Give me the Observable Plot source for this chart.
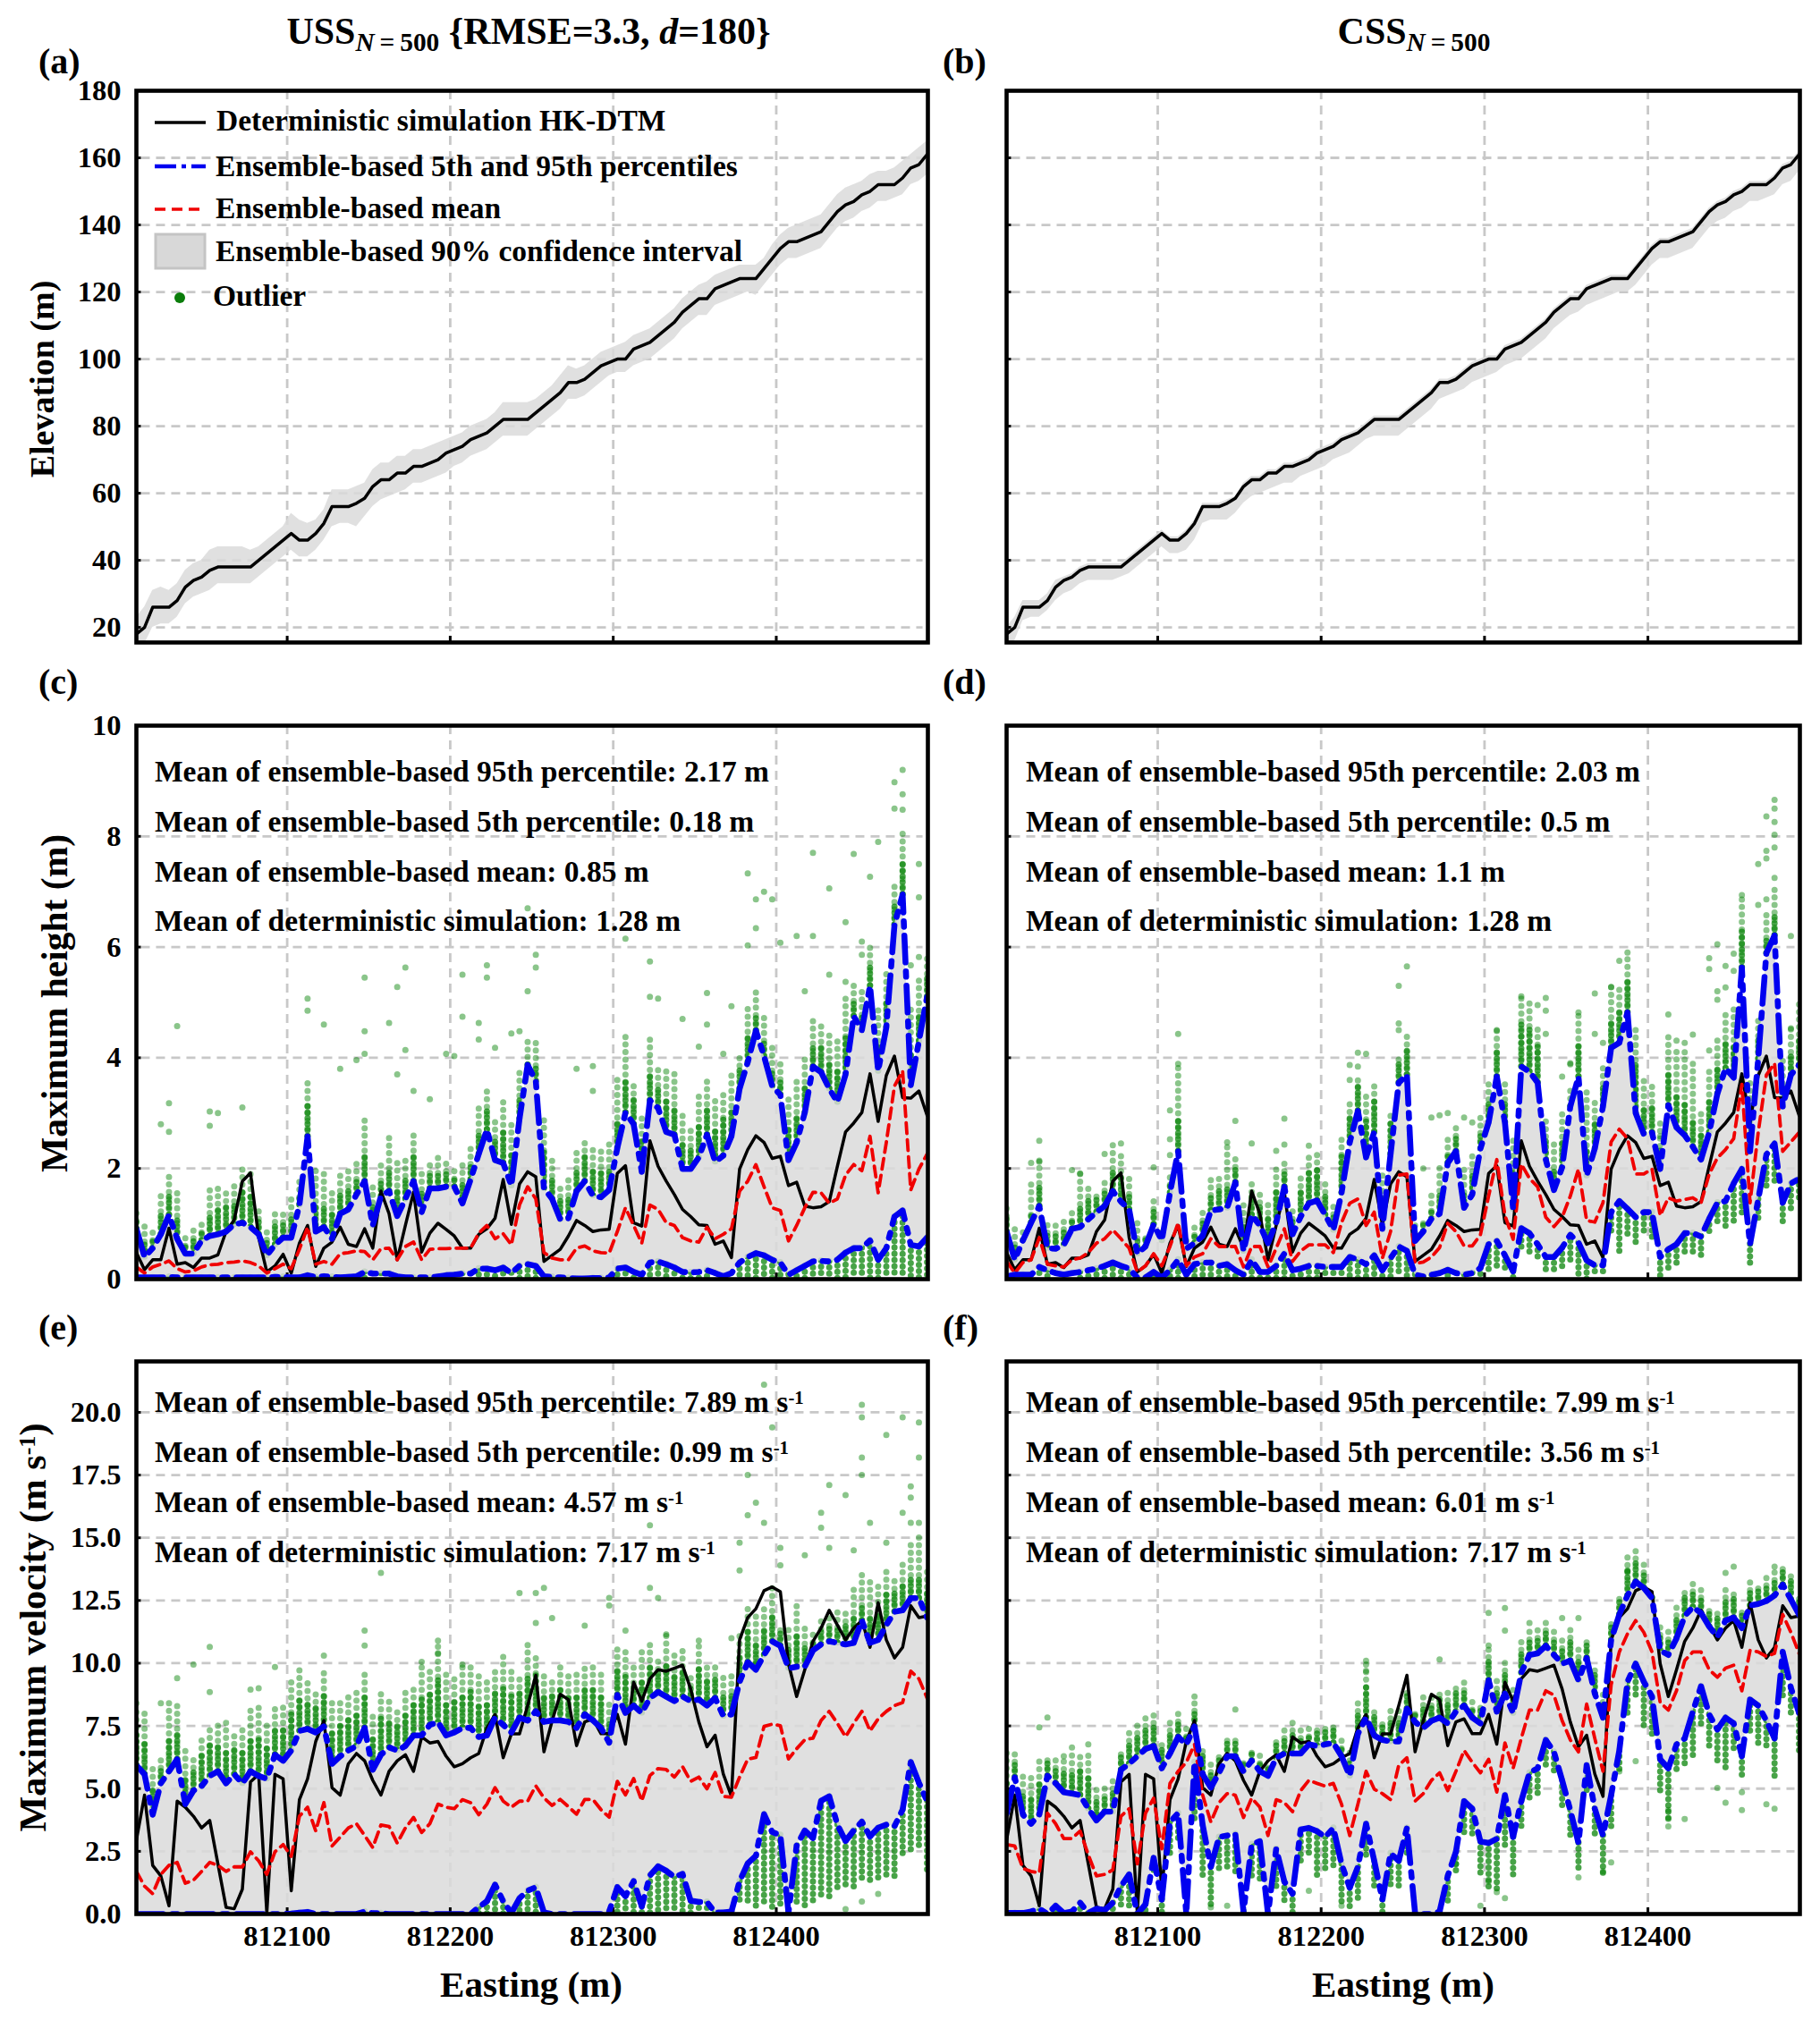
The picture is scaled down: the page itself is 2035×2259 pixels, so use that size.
<!DOCTYPE html>
<html><head><meta charset="utf-8">
<script src="https://cdn.jsdelivr.net/npm/d3@7"></script>
<script src="https://cdn.jsdelivr.net/npm/@observablehq/plot@0.6"></script>
<style>
html,body{margin:0;padding:0;background:#fff}
#page{position:relative;width:2035px;height:2259px;overflow:hidden;font-family:"Liberation Serif",serif;font-weight:bold;color:#000}
#page>div.p{position:absolute}
.t{position:absolute;white-space:nowrap;line-height:1}
sup{font-size:62%;vertical-align:baseline;position:relative;top:-.45em}
sub{font-size:70%;vertical-align:baseline;position:relative;top:.28em}
</style></head><body><div id="page"></div>
<script>
const eastingTicks=[812100,812200,812300,812400];
const elevTicks=[20,40,60,80,100,120,140,160,180];
const heightTicks=[0,2,4,6,8,10];
const velTicks=[0,2.5,5,7.5,10,12.5,15,17.5,20];
const eastingStart=812007.5, eastingStep=5;

const elevDet=[18,20,26,26,26,28,32,34,35,37,
38,38,38,38,38,40,42,44,46,48,
46,46,48,51,56,56,56,57,58.5,62,
64,64,66,66,68,68,69,70,72,73,
74,76,77,78,80,82,82,82,82,84,
86,88,90,93,93,94,96,98,99,100,
100,103,104,105,107,109,111,114,116,118,
118,121,122,123,124,124,124,127,130,133,
135,135,136,137,138,141,144,146,147,149,
150,152,152,152,154,157,158,161];
const elevUpU=[23,26,31,32,31,33,37,39,40,43,
44,44,44,44,43,44,46,48,50,54,
52,51,52,55,61,61,61,62,63,67,
69,69,71,71,73,73,74,75,76,77,
78,80,81,82,84,87,87,87,87,88,
90,92,95,98,97,98,100,102,103,104,
105,107,108,109,111,113,115,118,120,122,
123,125,126,127,128,128,128,130,134,137,
139,140,141,142,143,146,149,151,152,153,
155,156,156,157,159,161,163,165];
const elevLoU=[14,15,20,21,21,23,27,29,30,31,
33,33,33,33,33,35,37,39,41,43,
41,41,43,46,50,51,51,50,53,56,
58,59,60,61,63,63,64,65,66,68,
69,71,72,73,75,77,77,77,77,79,
81,83,85,88,88,89,91,93,95,96,
96,98,99,100,102,104,106,109,111,113,
113,116,117,118,119,120,119,122,125,128,
130,130,131,132,133,136,139,141,142,144,
145,147,147,148,149,152,153,155];
const elevUpC=[20,23,28,28,28,30,34,35,36,38,
39,39,39,39,39,41,43,45,47,49,
47,47,49,52,57,57,57,58,59,63,
65,65,67,67,69,69,70,71,73,74,
75,77,78,79,81,83,83,83,83,85,
87,89,91,94,94,95,97,99,100,101,
101,104,105,106,108,110,112,115,117,119,
119,122,123,124,125,125,125,128,131,134,
136,136,137,138,139,142,145,147,148,150,
151,153,153,153,155,158,159,162];
const elevLoC=[15,16,22,23,23,25,28,30,31,33,
34,34,34,34,35,36,38,40,42,44,
42,42,43,46,51,52,52,52,54,57,
59,60,61,62,63,63,65,66,67,68,
70,71,72,74,76,77,77,77,77,79,
81,83,85,88,89,90,91,93,94,95,
96,98,99,100,102,104,106,109,111,113,
114,116,117,118,119,120,120,122,125,128,
130,130,131,132,133,136,139,141,142,144,
145,147,147,148,149,152,153,156];

const heightDet=[.48,.17,.35,.35,.92,.27,.30,.21,.38,.38,
.44,.86,1.07,1.77,1.92,.75,.13,.24,.45,.11,
.65,.97,.23,.56,.67,.94,.63,.59,.91,.56,
1.59,1.18,.35,.97,1.57,.49,.83,1.01,.90,.78,
.56,.56,.81,.91,1.10,1.80,.99,1.72,1.94,1.85,
.32,.43,.54,.78,1.06,.97,.86,.89,.90,1.91,
2.05,1.02,.96,2.5,2.04,1.77,1.53,1.26,1.13,.98,
.97,.63,.69,.39,1.99,2.34,2.59,2.47,2.18,2.22,
1.69,1.75,1.32,1.29,1.31,1.40,2.04,2.66,2.82,3.01,
3.71,2.85,3.68,4.03,3.28,3.27,3.40,2.96];
const heightUpU=[.91,.40,.56,.81,1.16,.73,.46,.46,.70,.78,
.81,.86,.99,1.02,.94,.81,.43,.62,.75,.75,
1.34,2.58,.86,.94,.73,1.18,1.26,1.53,1.77,.97,
1.5,1.59,1.14,1.45,1.77,1.21,1.64,1.64,1.67,1.67,
1.37,1.80,2.26,2.70,2.15,2.10,1.69,2.90,3.87,3.58,
1.64,1.45,1.08,1.10,1.59,1.77,1.51,1.48,1.61,2.37,
3.01,2.80,1.94,3.23,3.09,2.66,2.61,1.99,1.99,2.2,
2.61,2.12,2.23,2.58,3.44,3.92,4.49,4.03,3.49,3.33,
2.15,2.47,3.01,3.84,3.74,3.44,3.2,3.7,4.75,4.5,
5.3,3.76,4.55,6.4,6.95,3.5,4.3,5.1];
const heightLoU=[.03,.03,.03,.03,.04,.03,.03,.03,.03,.03,
.03,.03,.03,.03,.03,.03,.03,.04,.04,.03,
.03,.07,.04,.05,.04,.03,.04,.05,.13,.1,
.1,.1,.05,.03,.03,.03,.03,.05,.07,.08,
.1,.1,.19,.19,.16,.21,.11,.24,.27,.24,
.05,.04,.03,.02,.01,.01,.02,.02,.03,.19,
.21,.13,.08,.30,.32,.27,.21,.13,.12,.13,
.16,.11,.05,.11,.30,.40,.47,.43,.35,.30,
.08,.16,.24,.32,.33,.32,.35,.48,.56,.56,
.70,.35,.56,1.13,1.24,.62,.59,.75];
const heightMeanU=[.22,.11,.22,.27,.33,.19,.13,.15,.22,.26,
.27,.30,.31,.33,.30,.24,.11,.19,.27,.19,
.54,.94,.27,.32,.27,.46,.48,.51,.5,.35,
.55,.56,.35,.59,.67,.35,.54,.55,.55,.56,
.56,.56,.83,.97,.73,.82,.62,1.34,1.67,1.45,
.48,.38,.35,.35,.56,.60,.51,.48,.47,.86,
1.29,.97,.65,1.34,1.26,1.02,.97,.75,.69,.67,
.94,.73,.81,.91,1.59,1.77,2.07,1.67,1.29,1.24,
.69,.97,1.29,1.57,1.56,1.37,1.45,1.88,2.07,1.96,
2.58,1.56,2.47,3.49,3.76,1.61,1.99,2.26];
const heightStackU=[1.3,1.0,.85,1.55,1.9,1.55,.85,.9,1.1,1.7,
1.75,1.65,1.7,2.05,1.9,1.35,.95,1.2,1.25,1.5,
1.75,3.6,2.0,1.9,1.6,1.9,2.0,2.15,2.9,1.65,
2.05,2.6,2.1,2.2,2.7,2.0,2.1,2.2,2.2,2.0,
2.1,2.4,3.1,3.4,2.9,3.2,2.9,3.8,4.3,4.35,
2.9,2.2,1.75,1.85,2.4,2.55,2.4,2.35,2.45,3.6,
4.4,3.6,3.0,4.4,3.9,3.8,3.7,3.0,2.8,3.3,
3.6,3.3,3.4,3.7,4.1,5.0,5.3,4.8,4.3,3.9,
3.3,3.6,4.0,4.7,4.6,4.4,4.4,5.1,5.3,5.2,
6.1,4.9,5.5,7.2,8.1,4.9,5.4,5.9];
const heightCoreU=[1.1,.7,.7,1.15,1.5,1.1,.65,.7,.9,1.2,
1.25,1.3,1.4,1.6,1.5,1.1,.7,.95,1.05,1.1,
1.5,3.2,1.3,1.3,1.2,1.5,1.6,1.8,2.3,1.3,
1.75,2.0,1.6,1.8,2.2,1.6,1.9,1.9,1.9,1.8,
1.75,2.1,2.6,3.1,2.5,2.7,2.3,3.3,3.9,3.8,
2.3,1.8,1.4,1.5,2.0,2.2,2.0,1.95,2.0,2.9,
3.6,3.3,2.5,3.7,3.5,3.2,3.1,2.5,2.4,2.8,
3.1,2.7,2.9,3.1,3.8,4.4,4.8,4.3,3.8,3.6,
2.7,3.0,3.5,4.2,4.2,3.9,3.8,4.4,5.0,4.8,
5.7,4.2,5.0,6.8,7.5,4.1,4.8,5.5];
const heightSparseU=[[94,9.2],[94,8.76],[93,8.98],[93,8.5],[94,8.48],[91,7.9],[88,7.68],[83,7.7],[75,7.33],[76,6.86],[77,7.0],[78,6.86],[85,7.06],[90,7.27],[96,7.5],[96,6.9],[87,6.45],[89,6.1],[81,6.2],[83,6.2],[79,6.08],[76,6.34],[75,6.03],[60,6.15],[48,6.7],[49,5.86],[49,5.63],[48,5.2],[43,5.67],[43,5.45],[33,5.63],[32,5.28],[28,5.45],[21,5.07],[21,4.85],[40,5.5],[40,4.74],[63,5.74],[63,5.1],[64,5.07],[70,5.17],[5,4.57],[31,4.63],[23,4.6],[28,4.48],[28,4.07],[25,3.8],[27,3.96],[38,4.07],[39,4.03],[34,3.4],[36,3.25],[33,4.14],[32,3.7],[13,3.1],[9,3.03],[10,3.0],[4,3.18],[3,2.8],[4,2.66],[9,2.77],[46,4.44],[47,4.48],[44,4.18],[42,4.63],[42,4.33],[54,3.8],[56,3.85],[56,3.4],[67,4.7],[69,4.2],[70,4.6],[72,4.07],[73,4.93],[82,5.2],[85,5.5],[87,5.37],[89,5.86],[95,5.67],[96,5.82]];

const heightUpC=[.86,.35,.70,1.02,1.32,.56,.55,.62,.91,.94,
1.08,1.21,1.32,1.59,1.40,1.26,.46,.59,.99,.70,
1.56,2.31,.55,.65,.78,1.24,1.26,1.29,1.75,.51,
1.16,.97,.65,1.02,1.67,.81,1.13,1.37,1.42,1.16,
.89,1.56,2.47,3.04,2.2,2.66,.91,2.26,3.55,3.69,
.69,.86,1.09,1.18,2.1,2.31,1.29,1.53,2.36,2.83,
3.66,2.83,1.27,3.84,3.75,3.55,2.16,1.61,2.02,3.12,
3.66,1.87,2.36,3.12,4.18,4.27,4.82,3.0,2.62,2.65,
1.99,3.14,2.74,2.6,2.39,2.16,2.65,3.35,3.81,3.64,
5.63,2.31,3.98,5.89,6.21,3.12,3.69,3.87];
const heightLoC=[.05,.08,.08,.08,.22,.16,.11,.08,.11,.13,
.16,.19,.24,.30,.24,.19,.03,.03,.13,.03,
.16,.35,.08,.27,.30,.30,.24,.27,.16,.08,
.35,.13,.13,.24,.46,.16,.19,.24,.24,.22,
.22,.22,.40,.35,.27,.43,.16,.38,.59,.51,
.08,.05,.08,.11,.17,.11,.08,.11,.2,.63,
.69,.43,.14,.92,.83,.63,.4,.4,.57,.8,
.66,.34,.25,.25,1.21,1.41,1.27,1.12,1.21,1.21,
.4,.54,.63,.83,.83,.77,1.09,1.38,1.41,1.73,
1.99,.63,1.44,2.25,2.45,1.38,1.73,1.81];
const heightMeanC=[.32,.11,.30,.35,.75,.27,.24,.22,.35,.38,
.48,.65,.73,.89,.73,.56,.13,.24,.46,.24,
.59,1.02,.24,.40,.46,.73,.59,.59,.59,.22,
.59,.59,.22,.56,.91,.32,.51,.62,.62,.62,
.48,1.02,1.37,1.45,.97,1.21,.38,.86,1.88,1.9,
.28,.31,.4,.57,1.01,.86,.6,.6,.8,1.5,
2.16,1.15,.72,2.08,1.82,1.67,1.12,.95,1.12,1.5,
1.99,1.06,1.03,1.38,2.48,2.71,2.54,1.9,1.9,1.99,
1.15,1.47,1.41,1.44,1.47,1.38,1.9,2.19,2.34,2.54,
3.52,1.38,2.65,3.69,3.9,2.31,2.48,2.65];
const heightStackC=[1.35,.9,.95,1.75,2.15,1.1,1.0,1.15,1.3,1.9,
1.75,1.55,1.85,2.4,2.3,1.9,1.05,.85,1.5,.9,
1.85,3.9,.7,1.0,1.2,1.8,1.85,2.4,2.2,1.4,
1.8,1.6,1.45,2.0,2.1,1.25,1.9,2.25,2.25,1.75,
1.4,2.6,3.2,3.7,3.4,3.6,1.9,3.0,4.0,4.5,
1.0,1.1,1.6,2.0,2.6,2.85,2.0,2.3,3.0,3.6,
4.5,3.6,2.6,5.1,5.0,4.6,2.9,2.5,3.0,3.4,
4.8,3.4,3.3,3.9,5.3,5.3,5.9,4.6,3.6,3.5,
2.9,4.4,4.2,4.2,3.9,3.0,3.8,4.4,4.8,4.9,
6.9,3.6,4.7,6.6,7.1,4.0,4.6,5.0];
const heightCoreC=[1.1,.6,.8,1.2,1.7,.8,.8,.85,1.1,1.35,
1.4,1.45,1.6,1.95,1.9,1.55,.75,.75,1.3,.85,
1.7,2.9,.65,.85,1.05,1.55,1.6,1.7,2.0,.95,
1.55,1.35,1.1,1.6,1.95,1.05,1.6,1.95,2.0,1.5,
1.2,2.2,2.9,3.5,2.9,3.2,1.5,2.8,3.9,4.2,
.85,1.0,1.3,1.6,2.3,2.6,1.6,1.9,2.6,3.2,
4.1,3.2,2.0,4.6,4.5,4.2,2.5,2.0,2.5,3.2,
4.2,2.4,2.8,3.5,4.7,4.9,5.4,3.9,3.1,3.1,
2.4,3.7,3.3,3.2,2.9,2.6,3.2,3.8,4.3,4.2,
6.3,3.0,4.4,6.2,6.6,3.5,4.1,4.4];
const heightFloorC=[0,0,0,0,0,0,0,0,0,0,
0,0,0,0,0,0,0,0,0,0,
0,0,0,0,0,0,0,0,0,0,
0,0,0,0,0,0,0,0,0,0,
0,0,0,0,0,0,0,0,.1,0,
0,0,0,0,0,0,0,0,0,.15,
.2,.1,0,.5,.4,.3,.15,.15,.2,.3,
0,0,.05,.05,.8,.5,.75,.6,.8,.7,
0,.1,.25,.45,.45,.4,.8,.95,.9,1.05,
1.1,.25,1.1,1.6,1.75,.95,1.25,1.4];
const heightSparseC=[[94,8.66],[94,8.5],[93,8.36],[94,8.26],[94,8.03],[94,7.8],[93,7.74],[93,7.6],[92,7.5],[94,7.25],[93,6.86],[92,6.76],[90,6.94],[96,6.2],[87,6.05],[89,5.88],[89,5.57],[86,5.8],[86,5.6],[88,5.66],[88,5.27],[87,5.2],[87,5.05],[81,4.78],[84,4.42],[83,4.27],[82,4.31],[76,5.9],[75,5.75],[74,5.28],[72,5.16],[72,4.43],[73,4.27],[70,4.82],[66,5.08],[66,4.85],[66,4.43],[65,4.95],[63,5.11],[60,4.5],[49,5.65],[54,3.0],[53,2.96],[52,2.92],[56,2.92],[57,2.83],[51,2.0],[80,2.58],[69,3.9],[69,3.88],[68,3.66],[86,4.13],[96,4.53],[21,4.43],[21,3.89],[28,2.86],[34,2.9],[43,4.09],[44,4.07],[48,5.3],[48,4.62],[48,4.5],[42,3.87],[42,3.6],[43,3.84],[4,2.5],[4,2.12],[3,2.1],[12,2.26],[13,2.42],[14,2.45],[20,3.05],[20,2.53],[20,2.24],[30,2.45],[27,2.47],[33,2.32],[34,2.43],[37,2.41],[18,2.02],[8,1.97],[9,1.91]];

const velDet=[2.95,4.74,1.94,1.52,.33,4.5,4.26,3.9,3.43,3.73,
2.0,.27,.21,.99,5.27,5.57,.04,5.57,5.39,.93,
4.56,5.39,6.88,7.71,5.04,4.74,5.99,6.4,6.11,5.33,
4.74,5.69,6.11,6.35,5.69,7.06,6.82,6.88,6.29,5.87,
5.99,6.23,6.4,7.42,7.95,6.23,7.18,7.18,8.31,9.52,
6.47,7.7,8.76,8.55,6.71,7.66,7.78,7.19,7.19,7.96,
6.77,9.24,8.49,9.38,9.74,9.68,9.8,9.92,8.97,7.66,
6.67,7.13,5.58,4.69,10.93,11.82,12.17,12.89,13.04,12.85,
9.98,8.67,9.74,10.87,11.4,12.11,11.52,10.93,11.4,11.7,
10.63,12.41,10.93,10.21,10.63,12.29,11.82,11.88];
const velUpU=[5.93,5.57,3.96,5.21,5.69,6.17,4.38,4.92,5.1,5.51,
5.69,5.21,5.57,5.21,5.69,5.5,5.39,6.35,6.11,6.52,
7.3,7.38,7.24,7.48,5.99,6.29,6.52,6.7,7.42,5.75,
6.35,6.64,6.52,6.7,7.12,7.12,7.54,7.65,7.12,7.24,
7.42,7.42,7.06,7.12,7.83,7.54,7.24,7.83,7.71,8.08,
7.66,7.72,7.72,7.66,7.42,7.96,7.72,7.42,6.83,8.73,
8.02,8.31,8.02,8.61,8.85,8.67,8.49,8.67,8.49,8.55,
8.31,8.61,7.9,7.96,9.26,10.04,9.74,10.33,10.87,10.69,
9.8,9.86,9.86,10.51,10.75,10.87,10.81,10.75,10.81,11.7,
10.81,10.93,11.52,12.05,12.11,12.59,12.59,11.82];
const velLoU=[0,0,0,0,0,0,0,0,0,0,
0,0,0,0,0,0,0,0,0,.02,
.05,.08,0,0,0,0,0,0,.1,.03,
.03,0,0,0,0,0,0,0,0,0,
0,0,.27,.51,1.17,.51,.04,.63,.93,1.07,
.06,0,0,0,0,0,0,0,.1,1.07,
.71,1.31,.3,1.54,1.9,1.72,1.48,1.6,.53,.48,
.48,.06,.06,.1,1.31,2.02,2.32,3.98,3.27,3.15,
.06,2.73,3.33,3.03,4.51,4.69,3.56,2.91,3.33,3.68,
3.09,3.44,3.56,3.5,4.16,6.06,5.23,4.51];
const velMeanU=[1.7,1.11,.81,1.58,1.94,2.06,1.23,1.35,1.7,2.06,
1.94,1.7,1.88,1.88,2.48,2.12,1.58,2.48,2.77,2.3,
3.9,4.26,3.31,4.44,2.71,3.07,3.43,3.6,3.13,2.65,
3.55,3.49,2.83,3.43,3.85,3.25,3.6,4.38,4.26,4.2,
4.56,4.44,3.96,4.38,5.04,4.5,4.26,4.5,4.5,5.11,
4.63,4.33,4.57,4.28,3.98,4.57,4.57,4.16,3.86,5.29,
4.75,5.4,4.51,5.52,5.8,5.76,5.46,5.88,5.29,5.46,
4.99,5.64,4.69,4.66,5.46,6.18,6.24,7.48,7.57,7.51,
6.18,6.59,6.95,7.01,7.72,8.08,7.6,7.07,7.6,8.08,
7.3,7.78,8.08,8.31,8.43,9.68,9.38,8.61];
const velStackU=[8.2,8.0,6.0,6.3,8.3,8.4,6.6,6.4,7.1,7.6,
7.65,7.65,7.35,7.35,8.3,8.2,7.5,8.2,8.4,9.4,
9.7,9.45,8.8,9.7,8.55,8.55,8.85,9.0,9.8,8.1,
9.0,8.65,8.2,8.8,9.2,9.85,9.85,10.9,9.55,9.6,
9.85,10.1,9.5,9.25,9.85,10.25,9.85,9.5,10.9,10.4,
9.7,9.5,10.1,9.6,9.6,10,9.85,9.7,8.4,10.6,
10.6,9.9,10.55,10.8,10.3,11.15,10.55,10.55,9.6,10.7,
10.1,10.1,9.4,9.6,11.15,12.35,11.9,12.35,13.2,11.5,
11.5,12.35,11.4,11.3,11.9,11.9,12.2,12.2,12.95,13.5,
13.3,13.3,13.8,13.5,14.0,14.7,15.2,13.7];
const velCoreU=[7.2,6.9,5.1,5.9,6.9,7.2,5.5,5.7,6.3,6.7,
6.8,6.6,6.6,6.6,7.1,7.1,6.7,7.3,7.4,8.1,
8.6,8.5,8.2,8.7,7.4,7.6,7.8,8.0,8.7,7.1,
7.8,7.8,7.5,7.9,8.3,8.6,8.8,9.4,8.5,8.6,
8.8,8.9,8.4,8.3,8.9,9.1,8.7,8.8,9.5,9.6,
8.8,8.7,8.9,8.7,8.6,9.1,8.9,8.6,7.7,9.8,
9.5,9.2,9.4,9.8,9.7,10,9.6,9.7,9.1,9.8,
9.4,9.5,8.8,8.9,10.3,11.3,10.9,11.3,12.0,11.2,
10.7,11.2,10.7,10.9,11.3,11.4,11.5,11.5,11.9,12.4,
11.9,12.1,12.7,12.8,13.1,13.4,13.4,12.8];
const velFloorU=[0,0,0,0,0,0,0,0,0,0,
0,0,0,0,0,0,0,0,0,0,
0,0,0,0,0,0,0,0,0,0,
0,0,0,0,0,0,0,0,0,0,
0,0,0,0,0,0,0,0,0,0,
0,0,0,0,0,0,0,0,0,0,
0,0,0,0,0,0,0,0,0,0,
0,0,0,0,.4,.3,.3,.4,.2,.2,
0,.3,.3,.5,.6,.6,1.0,1.0,1.0,1.2,
1.2,1.4,1.4,1.5,2.4,2.5,2.6,1.7];
const velSparseU=[[77,21.1],[78,19.4],[89,20.3],[89,19.8],[94,19.8],[96,19.6],[92,19.1],[96,18.2],[89,18.2],[89,17.5],[75,17.5],[76,16.4],[77,15.6],[75,15.9],[95,17.05],[95,16.6],[85,17.1],[87,16.7],[84,16],[84,15.4],[63,15.5],[63,13],[64,12.6],[58,12.3],[58,12.6],[55,11.5],[50,13],[49,12.8],[47,12.8],[30,13.6],[28,11.3],[28,10.7],[23,10.3],[9,10.65],[7,9.95],[5,9.4],[4,8.4],[3,8.4],[0,8.4],[9,8.85],[17,9.85],[15,9.0],[14,8.95],[35,10.05],[37,10.9],[40,9.95],[37,10.4],[51,11.8],[49,11.6],[60,11.3],[65,11.15],[69,10.9],[73,11],[74,13.7],[74,14.8],[79,14.6],[79,13.9],[82,14.3],[85,14.6],[88,14.5],[90,15.6],[92,14.8],[94,16],[95,15.6],[96,15.6],[91,.8],[89,.5],[87,.2]];

const velUpC=[4.0,5.45,3.96,3.6,3.96,5.51,5.21,4.86,4.8,4.74,
4.2,3.73,4.08,4.08,5.75,5.99,6.29,6.58,6.7,5.81,
6.4,7.06,6.76,7.48,5.57,5.04,5.63,6.29,6.29,5.69,
6.11,5.69,5.51,6.23,6.4,6.4,6.4,6.76,6.7,6.76,
6.82,6.29,5.51,7.18,7.83,7.12,6.94,6.88,6.88,8.19,
7.65,7.42,7.7,7.83,7.6,8.07,8.31,7.83,7.6,9.32,
8.07,8.79,8.01,9.62,10.33,10.39,10.69,10.33,9.98,10.1,
9.32,10.21,8.79,7.83,10.93,11.94,12.7,13.25,13.0,12.6,
10.51,10.33,10.99,11.88,12.24,12.0,11.46,11.05,11.7,11.82,
11.4,12.3,12.36,12.48,12.7,13.13,12.54,11.94];
const velLoC=[.04,.04,.04,.1,.21,0,.33,.04,.1,.45,
.04,.21,.15,.45,1.11,1.58,0,.39,2.24,.57,
3.67,4.02,0,6.05,3.55,1.88,3.07,3.13,3.19,.1,
2.77,2.9,0,2.6,1.29,.81,3.37,3.43,3.3,3.07,
3.43,2.0,1.05,1.88,3.6,2.12,.57,2.42,2.12,3.43,
.04,0,0,.1,1.52,2.48,4.5,4.2,2.89,2.83,
3.0,4.74,3.07,4.5,5.63,5.81,6.94,6.46,5.33,4.14,
2.83,5.93,4.2,3.13,4.74,6.52,9.26,9.98,9.26,8.67,
6.17,5.81,6.76,7.0,8.07,9.08,7.95,7.36,7.83,7.6,
6.29,8.55,8.31,7.71,7.0,10.45,9.02,8.01];
const velMeanC=[2.77,2.71,1.82,1.7,1.64,4.02,3.6,3.01,3.01,3.31,
2.36,1.52,1.58,1.76,3.9,4.2,2.0,4.02,4.62,2.6,
5.21,5.69,6.05,6.76,4.74,3.67,4.44,4.8,4.74,3.85,
4.62,4.26,3.13,4.56,4.44,4.08,4.92,5.33,5.21,5.1,
5.21,4.38,3.13,4.38,5.69,4.98,4.8,4.56,5.93,6.23,
4.5,4.8,5.33,5.63,4.92,5.69,6.52,6.05,5.63,6.17,
4.86,6.82,5.81,7.0,8.13,8.13,8.9,8.73,7.71,6.94,
6.46,8.37,7.0,5.69,9.14,10.45,11.17,11.7,11.23,10.45,
8.43,8.13,8.9,10.1,10.45,10.45,9.74,9.44,9.8,9.92,
8.9,10.51,10.45,10.27,10.39,11.94,11.23,10.39];
const velStackC=[6.4,6.6,5.6,5.5,6.1,6.4,6.3,6.3,6.4,6.4,
6.4,5.0,5.0,5.5,6.6,7.2,7.6,7.9,8.0,7.0,
7.6,8.1,7.5,8.6,6.6,6.0,6.5,7.0,7.0,6.2,
6.6,6.4,6.0,7.1,7.5,7.6,7.5,7.5,7.5,7.6,
7.6,6.9,6.5,8.4,10.0,8.3,7.8,8.1,8.1,9.0,
8.1,8.9,8.8,9.0,8.8,9.2,9.4,8.6,8.4,10.7,
9.3,10.2,9.0,11.0,11.5,11.4,11.6,11.3,10.9,11.5,
10.8,11.1,9.9,8.9,11.8,12.8,14.2,14.5,14.0,12.8,
11.5,11.3,12.3,13.0,13.2,13.0,12.3,12.2,13.0,13.0,
12.1,13.2,13.2,13.5,13.8,14.0,13.6,12.8];
const velCoreC=[5.2,6.1,4.7,4.6,5.2,6.0,5.9,5.7,5.7,5.7,
5.5,4.5,4.7,5.0,6.3,6.7,7.1,7.4,7.5,6.6,
7.2,7.7,7.2,8.1,6.3,5.7,6.2,6.8,6.8,6.1,
6.4,6.1,5.9,6.8,7.1,7.2,7.1,7.2,7.2,7.3,
7.3,6.7,6.2,7.9,9.1,7.9,7.5,7.6,7.6,8.7,
7.9,8.3,8.4,8.6,8.4,8.8,9,8.3,8.1,10.2,
8.9,9.7,8.7,10.5,11,11,11.2,11,10.6,11,
10.2,10.8,9.5,8.5,11.5,12.6,13.8,14.1,13.7,12.8,
11.1,11,11.9,12.7,12.9,12.7,12,11.8,12.5,12.6,
11.9,12.9,12.9,13,13.4,13.7,13.3,12.5];
const velFloorC=[0,0,0,0,0,0,0,0,0,0,
0,0,0,0,.3,.2,0,0,1.5,0,
2.2,3.0,0,3.6,1.5,.3,1.6,1.7,1.5,0,
1.4,1.2,0,1.0,.4,0,2.0,2.2,1.5,1.6,
1.7,.4,.1,.5,2.2,1.0,0,1.0,1.0,2.2,
0,0,0,0,.5,1.5,3.2,3.2,1.5,1.0,
1.0,2.5,1.5,3.3,4.5,4.7,5.7,5.5,4.3,3.0,
1.6,4.7,3.0,1.5,3.4,5.6,8.0,8.5,7.5,7.0,
4.8,3.6,5.6,6.0,6.2,7.5,6.5,6.0,5.6,6.5,
5.5,7.2,6.8,6.5,5.4,8.5,8.0,6.5];
const velSparseC=[[61,12.2],[44,10.1],[44,9.7],[53,10.15],[64,11.6],[68,11.8],[70,11.8],[76,13.7],[88,13.6],[89,13.85],[94,13.85],[28,8.15],[23,8.67],[5,7.83],[4,7.44],[10,6.76],[8,6.64],[7,6.29],[59,12],[61,11.3],[59,10.7],[81,3.49],[81,3.79],[83,3.79],[90,4.14],[94,4.2],[88,4.44],[93,4.38],[87,5.03],[90,4.86],[70,1.46],[73,1.7],[74,2.06],[61,.63],[60,.87],[59,1.29],[55,2.0],[77,6.1],[75,5.69],[81,4.14],[37,.93],[41,.33],[27,.33],[25,.27],[58,.33]];

const statsH_U=["Mean of ensemble-based 95th percentile: 2.17 m","Mean of ensemble-based 5th percentile: 0.18 m","Mean of ensemble-based mean: 0.85 m","Mean of deterministic simulation: 1.28 m"];
const statsH_C=["Mean of ensemble-based 95th percentile: 2.03 m","Mean of ensemble-based 5th percentile: 0.5 m","Mean of ensemble-based mean: 1.1 m","Mean of deterministic simulation: 1.28 m"];
const statsV_U=["Mean of ensemble-based 95th percentile: 7.89 m s<sup>-1</sup>","Mean of ensemble-based 5th percentile: 0.99 m s<sup>-1</sup>","Mean of ensemble-based mean: 4.57 m s<sup>-1</sup>","Mean of deterministic simulation: 7.17 m s<sup>-1</sup>"];
const statsV_C=["Mean of ensemble-based 95th percentile: 7.99 m s<sup>-1</sup>","Mean of ensemble-based 5th percentile: 3.56 m s<sup>-1</sup>","Mean of ensemble-based mean: 6.01 m s<sup>-1</sup>","Mean of deterministic simulation: 7.17 m s<sup>-1</sup>"];
const legendLabels=["Deterministic simulation HK-DTM","Ensemble-based 5th and 95th percentiles","Ensemble-based mean","Ensemble-based 90% confidence interval","Outlier"];

const page=document.getElementById("page");
const FONT='"Liberation Serif",serif';
const xDomain=[eastingStart,812493];
const ML=76,MR=5,MT=5;

function panel(o){
  const east=i=>eastingStart+eastingStep*i;
  const n=o.det.length;
  const rows=d3.range(n).map(i=>({x:east(i),det:o.det[i],up:o.up[i],lo:o.lo[i],mean:o.mean?o.mean[i]:null,
    stack:o.stack?o.stack[i]:null,core:o.core?o.core[i]:null,floor:o.floor?o.floor[i]:0}));
  const MB=o.xLabels?56:5;
  const dy=(o.yDomain[1]-o.yDomain[0])/(o.h)*7;
  const marks=[
    Plot.ruleX(eastingTicks,{stroke:"#c8c8c8",strokeWidth:2.8,strokeDasharray:"10 7"}),
    Plot.ruleY(o.yTicks.filter(t=>t>o.yDomain[0]&&t<o.yDomain[1]),{stroke:"#c8c8c8",strokeWidth:2.8,strokeDasharray:"10 7",x1:xDomain[0]+3,x2:xDomain[1]-3})
  ];
  const dotOpts={x:"x",stroke:"#008000",strokeOpacity:.46,strokeWidth:7,strokeLinecap:"round",strokeDasharray:"0 8.4",clip:true};
  if(o.stack){
    marks.push(Plot.ruleX(rows.filter(d=>d.stack>d.up),{...dotOpts,y1:"up",y2:"stack"}));
    marks.push(Plot.ruleX(rows.filter(d=>d.core>d.up),{...dotOpts,y1:"up",y2:"core",strokeOpacity:.7,strokeDasharray:"0 6.6"}));
    marks.push(Plot.ruleX(rows.filter(d=>d.lo>d.floor),{...dotOpts,y1:"lo",y2:"floor",strokeOpacity:.72,strokeDasharray:"0 7"}));
    marks.push(Plot.dot(o.sparse,{x:d=>east(d[0]),y:d=>d[1],r:3.5,fill:"#008000",fillOpacity:.46,clip:true}));
  }
  marks.push(Plot.areaY(rows,{x:"x",y1:"lo",y2:"up",fill:"#dadada",fillOpacity:.85,clip:true}));
  marks.push(Plot.ruleY(o.yTicks.filter(t=>t>o.yDomain[0]&&t<o.yDomain[1]),{x1:xDomain[0],x2:xDomain[0]+3,stroke:"#000",strokeWidth:3}));
  marks.push(Plot.ruleX(eastingTicks,{y1:o.yDomain[0],y2:o.yDomain[0]+dy,stroke:"#000",strokeWidth:3}));
  marks.push(Plot.line(rows,{x:"x",y:"det",stroke:"#000",strokeWidth:3.5,curve:"linear",clip:true}));
  if(o.mean){
    marks.push(Plot.line(rows,{x:"x",y:"mean",stroke:"#f00000",strokeWidth:3.8,strokeDasharray:"12 7",clip:true}));
    const blue={x:"x",stroke:"#0000f0",strokeWidth:6.6,strokeDasharray:"30 10 6 10",clip:true};
    marks.push(Plot.line(rows,{...blue,y:"up"}));
    marks.push(Plot.line(rows,{...blue,y:"lo"}));
  }
  marks.push(Plot.frame({stroke:"#000",strokeWidth:4.6}));
  if(o.yLabels) marks.push(Plot.axisY(o.yTicks,{anchor:"left",tickSize:0,tickPadding:17,label:null,tickFormat:o.yFormat||(d=>d)}));
  else marks.push(Plot.axisY({ticks:[],label:null,tickSize:0}));
  if(o.xLabels) marks.push(Plot.axisX(eastingTicks,{anchor:"bottom",tickSize:0,tickPadding:12,label:null,tickFormat:d=>String(d)}));
  else marks.push(Plot.axisX({ticks:[],label:null,tickSize:0}));
  const svg=Plot.plot({
    width:ML+o.w+MR,height:MT+o.h+MB,
    marginLeft:ML,marginRight:MR,marginTop:MT,marginBottom:MB,
    x:{domain:xDomain,axis:null},y:{domain:o.yDomain,axis:null},
    style:{fontFamily:FONT,fontWeight:"bold",fontSize:"32.5px",background:"transparent",overflow:"visible",color:"#000"},
    marks
  });
  const wrap=document.createElement("div");
  wrap.className="p";
  wrap.style.left=(o.left-ML)+"px";wrap.style.top=(o.top-MT)+"px";
  wrap.appendChild(svg);
  page.appendChild(wrap);
}
function text(x,y,html,size,extra){
  const d=document.createElement("div");
  d.className="t";d.innerHTML=html;
  d.style.left=x+"px";d.style.top=y+"px";d.style.fontSize=size+"px";
  d.style.transform=extra||"translateY(-50%)";
  page.appendChild(d);
}
const L=152,R=1125,WL=885,WR=887;
const T1=101,H1=617,T2=811,H2=619,T3=1522,H3=618;
panel({left:L,top:T1,w:WL,h:H1,yDomain:[15.5,180],yTicks:elevTicks,yLabels:true,det:elevDet,up:elevUpU,lo:elevLoU});
panel({left:R,top:T1,w:WR,h:H1,yDomain:[15.5,180],yTicks:elevTicks,det:elevDet,up:elevUpC,lo:elevLoC});
panel({left:L,top:T2,w:WL,h:H2,yDomain:[0,10],yTicks:heightTicks,yLabels:true,det:heightDet,up:heightUpU,lo:heightLoU,mean:heightMeanU,stack:heightStackU,core:heightCoreU,sparse:heightSparseU});
panel({left:R,top:T2,w:WR,h:H2,yDomain:[0,10],yTicks:heightTicks,det:heightDet,up:heightUpC,lo:heightLoC,mean:heightMeanC,stack:heightStackC,core:heightCoreC,floor:heightFloorC,sparse:heightSparseC});
panel({left:L,top:T3,w:WL,h:H3,yDomain:[0,22.03],yTicks:velTicks,yLabels:true,yFormat:d=>d.toFixed(1),xLabels:true,det:velDet,up:velUpU,lo:velLoU,mean:velMeanU,stack:velStackU,core:velCoreU,floor:velFloorU,sparse:velSparseU});
panel({left:R,top:T3,w:WR,h:H3,yDomain:[0,22.03],yTicks:velTicks,xLabels:true,det:velDet,up:velUpC,lo:velLoC,mean:velMeanC,stack:velStackC,core:velCoreC,floor:velFloorC,sparse:velSparseC});

const center="translate(-50%,-50%)";
const rot="translate(-50%,-50%) rotate(-90deg)";
text(591,35,'USS<sub><i>N</i>&#8201;=&#8201;500</sub> {RMSE=3.3, <i>d</i>=180}',42,center);
text(1581,35,'CSS<sub><i>N</i>&#8201;=&#8201;500</sub>',42,center);
[["(a)",43,69],["(b)",1054,69],["(c)",43,763],["(d)",1054,763],["(e)",43,1485],["(f)",1054,1485]].forEach(([s,x,y])=>text(x,y,s,40));
text(47,424,"Elevation (m)",38,rot);
text(62,1122,"Maximum height (m)",41.5,rot);
text(37,1820,"Maximum velocity (m s<sup>-1</sup>)",42,rot);
text(594,2219,"Easting (m)",41,center);
text(1569,2219,"Easting (m)",41,center);
[[173,statsH_U,[863,919,975,1030]],[1147,statsH_C,[863,919,975,1030]],[173,statsV_U,[1568,1624,1680,1736]],[1147,statsV_C,[1568,1624,1680,1736]]]
 .forEach(([x,arr,ys])=>arr.forEach((s,i)=>text(x,ys[i],s,33.5)));
const legY=[135,186,233,281,331],legX=[242,241,241,241,238];
legendLabels.forEach((s,i)=>text(legX[i],legY[i],s,33.5));
const sw=document.createElementNS("http://www.w3.org/2000/svg","svg");
sw.setAttribute("width",2035);sw.setAttribute("height",400);
sw.style.cssText="position:absolute;left:0;top:0;pointer-events:none";
sw.innerHTML=`<line x1="173" x2="230" y1="137" y2="137" stroke="#000" stroke-width="3.6"/>
<line x1="173" x2="230" y1="186" y2="186" stroke="#0000f0" stroke-width="4.4" stroke-dasharray="24 6 5 6"/>
<line x1="173" x2="230" y1="234" y2="234" stroke="#f00000" stroke-width="3.6" stroke-dasharray="12 7"/>
<rect x="174" y="262" width="55" height="38" fill="#d8d8d8" stroke="#c4c4c4" stroke-width="3"/>
<circle cx="201" cy="333" r="6" fill="#0a7d0a"/>`;
page.appendChild(sw);
</script></body></html>
